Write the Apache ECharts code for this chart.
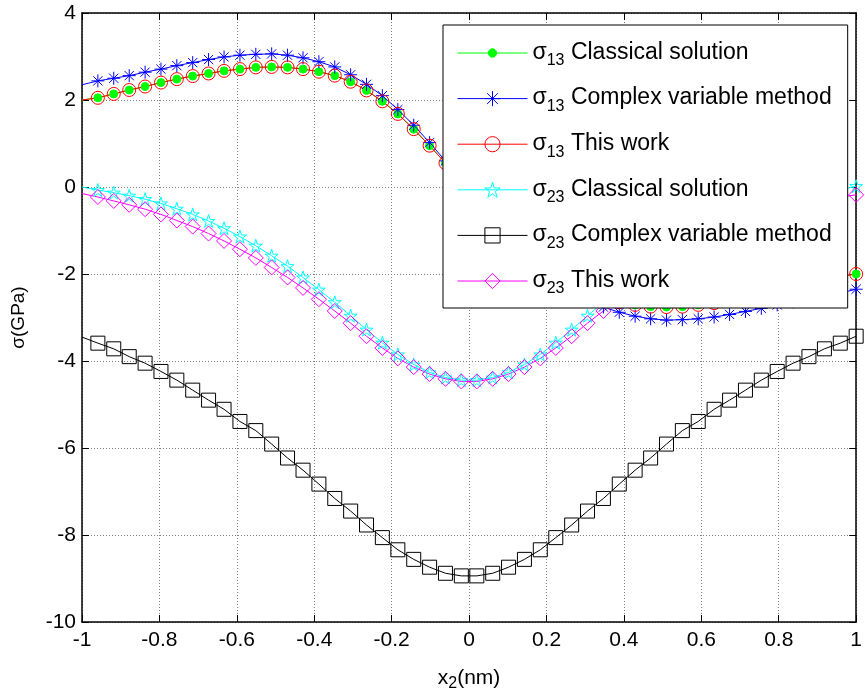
<!DOCTYPE html>
<html><head><meta charset="utf-8">
<script src="https://cdn.jsdelivr.net/npm/echarts@6/dist/echarts.min.js"></script>
<style>html,body{margin:0;padding:0;background:#fff}#c{width:865px;height:698px}</style>
</head><body><div id="c"></div>
<script>
const xVals = [-1, -0.959, -0.918, -0.878, -0.837, -0.796, -0.755, -0.714, -0.673, -0.633,
  -0.592, -0.551, -0.510, -0.469, -0.429, -0.388, -0.347, -0.306, -0.265, -0.224,
  -0.184, -0.143, -0.102, -0.061, -0.020, 0.020, 0.061, 0.102, 0.143, 0.184,
  0.224, 0.265, 0.306, 0.347, 0.388, 0.429, 0.469, 0.510, 0.551, 0.592,
  0.633, 0.673, 0.714, 0.755, 0.796, 0.837, 0.878, 0.918, 0.959, 1];

const s13Classical = [2.00, 2.05, 2.14, 2.23, 2.31, 2.40, 2.48, 2.55, 2.61, 2.67,
  2.71, 2.75, 2.76, 2.75, 2.71, 2.65, 2.56, 2.42, 2.22, 1.97,
  1.68, 1.33, 0.95, 0.55, 0.18, -0.18, -0.55, -0.95, -1.33, -1.68,
  -1.97, -2.22, -2.42, -2.56, -2.65, -2.71, -2.75, -2.76, -2.75, -2.71,
  -2.67, -2.61, -2.55, -2.48, -2.40, -2.31, -2.23, -2.14, -2.05, -2.00];

const s13Complex = [2.35, 2.44, 2.50, 2.56, 2.64, 2.71, 2.79, 2.86, 2.93, 2.99,
  3.03, 3.05, 3.06, 3.03, 2.97, 2.88, 2.76, 2.58, 2.36, 2.10,
  1.78, 1.42, 1.02, 0.60, 0.20, -0.20, -0.60, -1.02, -1.42, -1.78,
  -2.10, -2.36, -2.58, -2.76, -2.88, -2.97, -3.03, -3.06, -3.05, -3.03,
  -2.99, -2.93, -2.86, -2.79, -2.71, -2.64, -2.56, -2.50, -2.44, -2.35];

const s13ThisWork = [2.00, 2.05, 2.14, 2.23, 2.31, 2.40, 2.48, 2.55, 2.61, 2.67,
  2.71, 2.75, 2.76, 2.75, 2.71, 2.65, 2.56, 2.42, 2.22, 1.97,
  1.68, 1.33, 0.95, 0.55, 0.18, -0.18, -0.55, -0.95, -1.33, -1.68,
  -1.97, -2.22, -2.42, -2.56, -2.65, -2.71, -2.75, -2.76, -2.75, -2.71,
  -2.67, -2.61, -2.55, -2.48, -2.40, -2.31, -2.23, -2.14, -2.05, -2.00];

const s23Classical = [0.00, -0.07, -0.13, -0.20, -0.28, -0.38, -0.50, -0.63, -0.78, -0.95,
  -1.14, -1.35, -1.58, -1.82, -2.08, -2.36, -2.65, -2.96, -3.28, -3.58,
  -3.85, -4.08, -4.26, -4.38, -4.44, -4.44, -4.38, -4.26, -4.08, -3.85,
  -3.58, -3.28, -2.96, -2.65, -2.36, -2.08, -1.82, -1.58, -1.35, -1.14,
  -0.95, -0.78, -0.63, -0.50, -0.38, -0.28, -0.20, -0.13, -0.07, 0.02];

const s23Complex = [-3.45, -3.59, -3.72, -3.90, -4.05, -4.24, -4.44, -4.67, -4.90, -5.11,
  -5.39, -5.60, -5.91, -6.23, -6.51, -6.83, -7.16, -7.45, -7.77, -8.06,
  -8.34, -8.56, -8.74, -8.88, -8.94, -8.94, -8.88, -8.74, -8.56, -8.34,
  -8.06, -7.77, -7.45, -7.16, -6.83, -6.51, -6.23, -5.91, -5.60, -5.39,
  -5.11, -4.90, -4.67, -4.44, -4.24, -4.05, -3.90, -3.72, -3.59, -3.43];

const s23ThisWork = [-0.15, -0.23, -0.32, -0.41, -0.51, -0.63, -0.77, -0.91, -1.07, -1.24,
  -1.43, -1.63, -1.85, -2.08, -2.32, -2.58, -2.85, -3.13, -3.43, -3.70,
  -3.94, -4.14, -4.30, -4.41, -4.47, -4.47, -4.41, -4.30, -4.14, -3.94,
  -3.70, -3.43, -3.13, -2.85, -2.58, -2.32, -2.08, -1.85, -1.63, -1.43,
  -1.24, -1.07, -0.91, -0.77, -0.63, -0.51, -0.41, -0.32, -0.23, -0.18];

const xTicks = [-1, -0.8, -0.6, -0.4, -0.2, 0, 0.2, 0.4, 0.6, 0.8, 1];
const xTickLabels = ['-1', '-0.8', '-0.6', '-0.4', '-0.2', '0', '0.2', '0.4', '0.6', '0.8', '1'];
const yTicks = [-10, -8, -6, -4, -2, 0, 2, 4];
const yTickLabels = ['-10', '-8', '-6', '-4', '-2', '0', '2', '4'];

const seriesNames = [
  'σ13 Classical solution',
  'σ13 Complex variable method',
  'σ13 This work',
  'σ23 Classical solution',
  'σ23 Complex variable method',
  'σ23 This work'
];

const FONT = '"Liberation Sans", Arial, sans-serif';
const DOT = 'path://M0,0M20,20M10,4.5A5.5,5.5,0,1,1,9.99,4.5Z';
const ASTER = 'path://M0,-1L0,1M-1,0L1,0M-0.71,-0.71L0.71,0.71M-0.71,0.71L0.71,-0.71';
const PENTA = 'path://M0,-1L0.2245,-0.309L0.951,-0.309L0.363,0.118L0.588,0.809L0,0.382L-0.588,0.809L-0.363,0.118L-0.951,-0.309L-0.2245,-0.309Z';
const NOFILL = 'rgba(0,0,0,0)';

function mk(name, ys, color, symbol, size, fill) {
  return {
    name: name, type: 'line', clip: false, animation: false,
    data: xVals.map((x, i) => i === 0 ? { value: [x, ys[i]], symbol: 'none' } : [x, ys[i]]),
    symbol: symbol, symbolSize: size, showSymbol: true, showAllSymbol: true,
    lineStyle: { color: color, width: 1 },
    itemStyle: { color: fill, borderColor: color, borderWidth: 1 },
    emphasis: { disabled: true }
  };
}

function closestLabel(v, ticks, labels) {
  let best = 0;
  for (let i = 1; i < ticks.length; i++) if (Math.abs(ticks[i] - v) < Math.abs(ticks[best] - v)) best = i;
  return labels[best];
}

const chart = echarts.init(document.getElementById('c'), null, { renderer: 'canvas' });
const axisLineStyle = { color: '#000', width: 1.5 };
const gridLine = { show: true, lineStyle: { color: '#808080', width: 1, type: [1, 2] } };

chart.setOption({
  animation: false,
  backgroundColor: '#fff',
  grid: { left: 82, right: 8, top: 13, bottom: 76 },
  xAxis: [{
    type: 'value', min: -1, max: 1, interval: 0.2, position: 'bottom',
    axisLine: { show: true, onZero: false, lineStyle: axisLineStyle },
    axisTick: { show: true, inside: true, length: 7, lineStyle: { color: '#000', width: 1 } },
    axisLabel: { fontSize: 21, fontFamily: FONT, color: '#000', margin: 8,
      formatter: v => closestLabel(v, xTicks, xTickLabels) },
    splitLine: gridLine,
    name: 'x{sub|2}(nm)', nameLocation: 'middle', nameGap: 46,
    nameTextStyle: { fontSize: 21, fontFamily: FONT, color: '#000',
      rich: { sub: { fontSize: 16, fontFamily: FONT, color: '#000', lineHeight: 16, padding: [10, 0, 0, 0] } } }
  }, {
    type: 'value', min: -1, max: 1, interval: 0.2, position: 'top',
    axisLine: { show: true, onZero: false, lineStyle: axisLineStyle },
    axisTick: { show: true, inside: true, length: 7, lineStyle: { color: '#000', width: 1 } },
    axisLabel: { show: false }, splitLine: { show: false }
  }],
  yAxis: [{
    type: 'value', min: -10, max: 4, interval: 2, position: 'left',
    axisLine: { show: true, onZero: false, lineStyle: axisLineStyle },
    axisTick: { show: true, inside: true, length: 7, lineStyle: { color: '#000', width: 1 } },
    axisLabel: { fontSize: 21, fontFamily: FONT, color: '#000', margin: 6,
      formatter: v => closestLabel(v, yTicks, yTickLabels) },
    splitLine: gridLine,
    name: 'σ(GPa)', nameLocation: 'middle', nameGap: 54,
    nameTextStyle: { fontSize: 19, fontFamily: FONT, color: '#000' }
  }, {
    type: 'value', min: -10, max: 4, interval: 2, position: 'right',
    axisLine: { show: true, onZero: false, lineStyle: axisLineStyle },
    axisTick: { show: true, inside: true, length: 7, lineStyle: { color: '#000', width: 1 } },
    axisLabel: { show: false }, splitLine: { show: false }
  }],
  legend: {
    orient: 'vertical', left: 443, top: 25,
    padding: [12, 16, 11, 14],
    itemGap: 13.6, itemWidth: 70, itemHeight: 19,
    backgroundColor: '#fff', borderColor: '#000', borderWidth: 1, borderRadius: 0,
    selectedMode: false,
    lineStyle: { width: 1 },
    itemStyle: { borderWidth: 1 },
    data: seriesNames,
    formatter: name => name.replace(/^σ(\d+) (.*)$/, '{s|σ}{sub|$1}{t| $2}'),
    textStyle: {
      fontSize: 23, fontFamily: FONT, color: '#000',
      rich: {
        s: { fontSize: 23, fontFamily: FONT, color: '#000', lineHeight: 24, verticalAlign: 'top' },
        t: { fontSize: 23, fontFamily: FONT, color: '#000', lineHeight: 24, verticalAlign: 'top' },
        sub: { fontSize: 16, fontFamily: FONT, color: '#000', lineHeight: 16, padding: [16, 0, 0, 0] }
      }
    }
  },
  series: [
    mk(seriesNames[0], s13Classical, '#00ff00', DOT, 14.5, '#00ff00'),
    mk(seriesNames[1], s13Complex, '#0000ff', ASTER, 13, NOFILL),
    mk(seriesNames[2], s13ThisWork, '#ff0000', 'circle', 13, NOFILL),
    mk(seriesNames[3], s23Classical, '#00ffff', PENTA, 13, NOFILL),
    mk(seriesNames[4], s23Complex, '#000000', 'rect', 14, NOFILL),
    mk(seriesNames[5], s23ThisWork, '#ff00ff', 'diamond', 15, NOFILL)
  ]
});
</script>
</body></html>
